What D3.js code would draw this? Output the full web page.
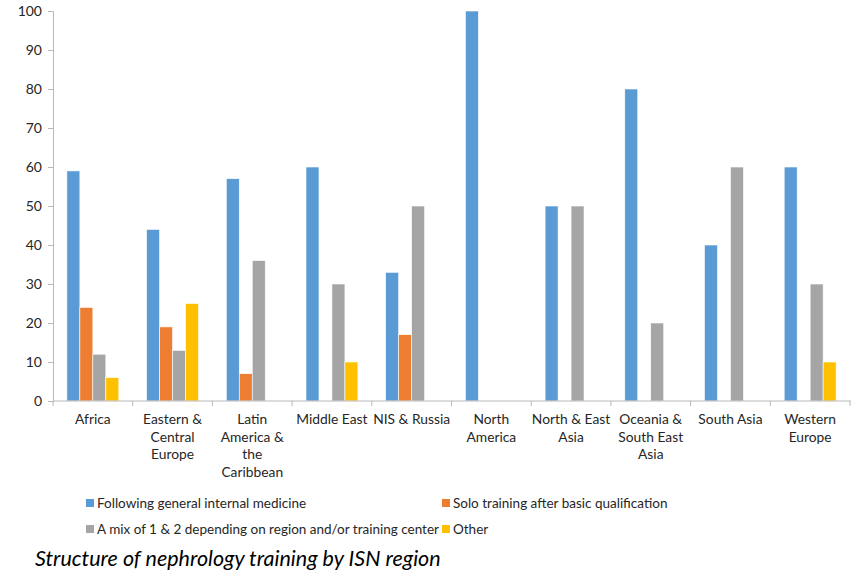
<!doctype html>
<html lang="en">
  <head>
    <meta charset="utf-8">
    <title>Structure of nephrology training by ISN region</title>
    <script src="https://d3js.org/d3.v7.min.js"></script>
    <style>
      body { margin: 0; background: white; }
      text { font-family: Lato, "Open Sans", sans-serif; fill: #404040; }
    </style>
  </head>

  <body>
    <svg width="851" height="572"></svg>
    <script>
      var regions = [
        ['Africa'],
        ['Eastern &', 'Central', 'Europe'],
        ['Latin', 'America &', 'the', 'Caribbean'],
        ['Middle East'],
        ['NIS & Russia'],
        ['North', 'America'],
        ['North & East', 'Asia'],
        ['Oceania &', 'South East', 'Asia'],
        ['South Asia'],
        ['Western', 'Europe']
      ];
      var seriesNames = [
        'Following general internal medicine',
        'Solo training after basic qualification',
        'A mix of 1 & 2 depending on region and/or training center',
        'Other'
      ];
      var internalMedicine = [59, 44, 57, 60, 33, 100, 50, 80, 40, 60];
      var soloTraining     = [24, 19, 7, 0, 17, 0, 0, 0, 0, 0];
      var mixed            = [12, 13, 36, 30, 50, 0, 50, 20, 60, 30];
      var other            = [6, 25, 0, 10, 0, 0, 0, 0, 0, 10];
      var yTicks = [0, 10, 20, 30, 40, 50, 60, 70, 80, 90, 100];
      var colors = ['#5b9bd5', '#ed7d31', '#a5a5a5', '#ffc000'];

      var allSeries = [internalMedicine, soloTraining, mixed, other];

      var svg = d3.select('svg');

      var x0 = d3.scaleBand()
        .domain(d3.range(regions.length))
        .range([53, 850]);

      var x1 = d3.scaleBand()
        .domain(d3.range(seriesNames.length))
        .range([0, x0.bandwidth()])
        .paddingOuter(1.07);

      var y = d3.scaleLinear()
        .domain([0, 100])
        .range([401, 11]);

      // y axis
      var yAxis = svg.append('g')
        .attr('transform', 'translate(53,0)')
        .call(d3.axisLeft(y).tickValues(yTicks).tickSize(5).tickPadding(6));
      yAxis.selectAll('path, line').attr('stroke', '#b8b8b8');
      yAxis.selectAll('text').style('font-size', '14px').style('fill', '#262626');

      // bars
      var groups = svg.append('g').selectAll('g')
        .data(regions)
        .enter().append('g')
        .attr('transform', function(d, i) { return 'translate(' + x0(i) + ',0)'; });

      groups.selectAll('rect')
        .data(function(d, i) {
          return allSeries.map(function(s, k) { return { k: k, v: s[i] }; })
            .filter(function(p) { return p.v > 0; });
        })
        .enter().append('rect')
        .attr('x', function(p) { return x1(p.k); })
        .attr('width', x1.bandwidth())
        .attr('y', function(p) { return y(p.v); })
        .attr('height', function(p) { return y(0) - y(p.v); })
        .attr('fill', function(p) { return colors[p.k]; })
        .attr('stroke', 'white')
        .attr('stroke-width', 0.6);

      // x axis
      var xAxis = svg.append('g')
        .attr('transform', 'translate(0,401)');
      xAxis.append('line')
        .attr('x1', 53).attr('x2', 851)
        .attr('stroke', '#b8b8b8');
      xAxis.selectAll('.tick')
        .data(d3.range(regions.length + 1))
        .enter().append('line')
        .attr('x1', function(i) { return 53 + i * x0.step(); })
        .attr('x2', function(i) { return 53 + i * x0.step(); })
        .attr('y1', 0).attr('y2', 5)
        .attr('stroke', '#b8b8b8');

      xAxis.selectAll('text')
        .data(regions)
        .enter().append('text')
        .attr('text-anchor', 'middle')
        .attr('x', function(d, i) { return x0(i) + x0.bandwidth() / 2; })
        .attr('y', 23)
        .style('font-size', '13.8px')
        .style('fill', '#262626')
        .selectAll('tspan')
        .data(function(d) { return d; })
        .enter().append('tspan')
        .attr('x', function() { return this.parentNode.getAttribute('x'); })
        .attr('dy', function(d, j) { return j === 0 ? 0 : 17.5; })
        .text(function(d) { return d; });

      // legend
      var legendPos = [[86, 503], [442, 503], [86, 529], [442, 529]];
      var legend = svg.append('g').selectAll('g')
        .data(seriesNames)
        .enter().append('g')
        .attr('transform', function(d, i) { return 'translate(' + legendPos[i][0] + ',' + legendPos[i][1] + ')'; });
      legend.append('rect')
        .attr('x', 0).attr('y', -4)
        .attr('width', 8).attr('height', 8)
        .attr('fill', function(d, i) { return colors[i]; });
      legend.append('text')
        .attr('x', 11).attr('y', 5)
        .style('font-size', '13.5px')
        .style('fill', '#262626')
        .text(function(d) { return d; });

      // caption
      svg.append('text')
        .attr('x', 35).attr('y', 566)
        .style('font-size', '21.5px')
        .style('font-style', 'italic')
        .style('fill', '#000')
        .text('Structure of nephrology training by ISN region');
    </script>
  </body>
</html>
